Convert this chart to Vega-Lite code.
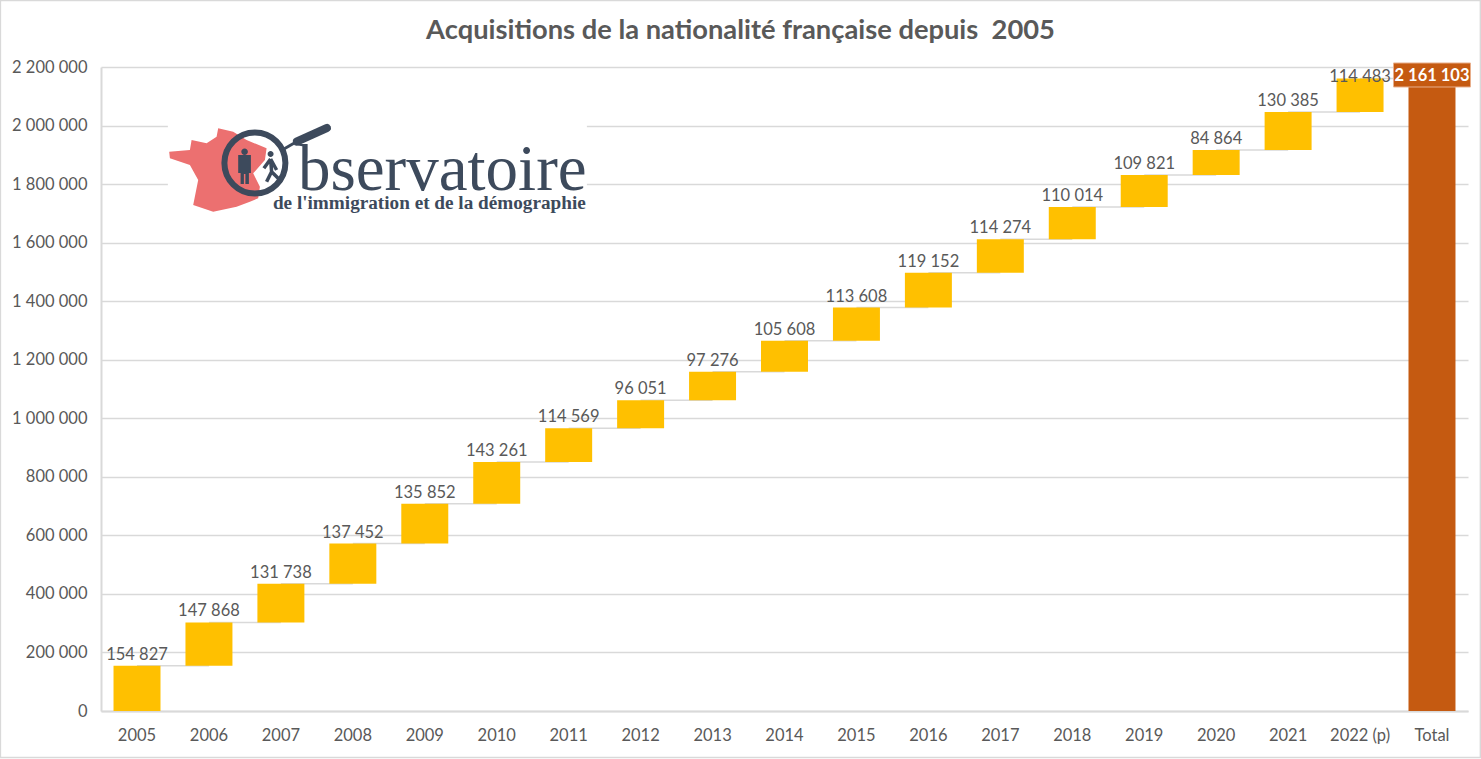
{
  "$schema": "https://vega.github.io/schema/vega-lite/v6.json",
  "width": 1367,
  "height": 644,
  "autosize": "none",
  "padding": {"left": 101, "top": 67, "right": 13, "bottom": 48},
  "background": "white",
  "title": {
    "text": "Acquisitions de la nationalité française depuis\u00a0 2005",
    "anchor": "middle",
    "dx": -44,
    "offset": -47,
    "font": "Lato",
    "fontSize": 27.3,
    "fontWeight": "bold",
    "color": "#595959"
  },
  "datasets": {
    "rows": [
      {"annee": "2005", "suivante": "2006", "debut": 0, "fin": 154827, "valeur": 154827},
      {"annee": "2006", "suivante": "2007", "debut": 154827, "fin": 302695, "valeur": 147868},
      {"annee": "2007", "suivante": "2008", "debut": 302695, "fin": 434433, "valeur": 131738},
      {"annee": "2008", "suivante": "2009", "debut": 434433, "fin": 571885, "valeur": 137452},
      {"annee": "2009", "suivante": "2010", "debut": 571885, "fin": 707737, "valeur": 135852},
      {"annee": "2010", "suivante": "2011", "debut": 707737, "fin": 850998, "valeur": 143261},
      {"annee": "2011", "suivante": "2012", "debut": 850998, "fin": 965567, "valeur": 114569},
      {"annee": "2012", "suivante": "2013", "debut": 965567, "fin": 1061618, "valeur": 96051},
      {"annee": "2013", "suivante": "2014", "debut": 1061618, "fin": 1158894, "valeur": 97276},
      {"annee": "2014", "suivante": "2015", "debut": 1158894, "fin": 1264502, "valeur": 105608},
      {"annee": "2015", "suivante": "2016", "debut": 1264502, "fin": 1378110, "valeur": 113608},
      {"annee": "2016", "suivante": "2017", "debut": 1378110, "fin": 1497262, "valeur": 119152},
      {"annee": "2017", "suivante": "2018", "debut": 1497262, "fin": 1611536, "valeur": 114274},
      {"annee": "2018", "suivante": "2019", "debut": 1611536, "fin": 1721550, "valeur": 110014},
      {"annee": "2019", "suivante": "2020", "debut": 1721550, "fin": 1831371, "valeur": 109821},
      {"annee": "2020", "suivante": "2021", "debut": 1831371, "fin": 1916235, "valeur": 84864},
      {"annee": "2021", "suivante": "2022 (p)", "debut": 1916235, "fin": 2046620, "valeur": 130385},
      {"annee": "2022 (p)", "suivante": "Total", "debut": 2046620, "fin": 2161103, "valeur": 114483},
      {"annee": "Total", "suivante": "Total", "debut": 0, "fin": 2161103, "valeur": 2161103}
    ]
  },
  "data": {"name": "rows"},
  "layer": [
    {
      "mark": {"type": "rule", "color": "#d9d9d9", "strokeWidth": 1.5},
      "encoding": {
        "x": {
          "field": "annee",
          "type": "nominal",
          "scale": {
            "type": "band",
            "domain": ["2005", "2006", "2007", "2008", "2009", "2010", "2011", "2012", "2013", "2014", "2015", "2016", "2017", "2018", "2019", "2020", "2021", "2022 (p)", "Total"],
            "paddingInner": 0.347,
            "paddingOuter": 0.174
          },
          "axis": {
            "title": null,
            "labelAngle": 0,
            "labelFont": "Lato",
            "labelFontSize": 16.5,
            "labelColor": "#595959",
            "labelPadding": 16,
            "ticks": false,
            "domainColor": "#d9d9d9",
            "domainWidth": 2
          }
        },
        "x2": {"field": "suivante"},
        "y": {
          "field": "fin",
          "type": "quantitative",
          "scale": {"domain": [0, 2200000], "nice": false},
          "axis": {
            "title": null,
            "values": [0, 200000, 400000, 600000, 800000, 1000000, 1200000, 1400000, 1600000, 1800000, 2000000, 2200000],
            "labelExpr": "replace(format(datum.value, ',d'), /,/g, ' ')",
            "labelFont": "Lato",
            "labelFontSize": 16.5,
            "labelColor": "#595959",
            "labelPadding": 14,
            "ticks": false,
            "domainColor": "#d9d9d9",
            "domainWidth": 2,
            "grid": true,
            "gridColor": "#d9d9d9",
            "gridWidth": 1.5
          }
        }
      }
    },
    {
      "transform": [{"filter": "datum.annee != 'Total'"}],
      "mark": {"type": "bar", "color": "#ffc000"},
      "encoding": {
        "x": {"field": "annee", "type": "nominal"},
        "y": {"field": "debut", "type": "quantitative"},
        "y2": {"field": "fin"}
      }
    },
    {
      "transform": [{"filter": "datum.annee == 'Total'"}],
      "mark": {"type": "bar", "color": "#c55a11"},
      "encoding": {
        "x": {"field": "annee", "type": "nominal"},
        "y": {"field": "debut", "type": "quantitative"},
        "y2": {"field": "fin"}
      }
    },
    {
      "transform": [
        {"filter": "datum.annee != 'Total' && datum.annee != '2022 (p)'"},
        {"calculate": "replace(format(datum.valeur, ',d'), /,/g, ' ')", "as": "etiquette"}
      ],
      "mark": {"type": "text", "font": "Lato", "fontSize": 16.5, "color": "#595959", "baseline": "alphabetic", "dy": -6},
      "encoding": {
        "x": {"field": "annee", "type": "nominal"},
        "y": {"field": "fin", "type": "quantitative"},
        "text": {"field": "etiquette"}
      }
    },
    {
      "transform": [
        {"filter": "datum.annee == '2022 (p)'"},
        {"calculate": "replace(format(datum.valeur, ',d'), /,/g, ' ')", "as": "etiquette"}
      ],
      "mark": {"type": "text", "font": "Lato", "fontSize": 16.5, "color": "#595959", "baseline": "alphabetic", "dy": 4},
      "encoding": {
        "x": {"field": "annee", "type": "nominal"},
        "y": {"field": "fin", "type": "quantitative"},
        "text": {"field": "etiquette"}
      }
    },
    {
      "transform": [{"filter": "datum.annee == 'Total'"}],
      "mark": {"type": "bar", "size": 77, "color": "#c55a11", "stroke": "#e8b08c", "strokeWidth": 1},
      "encoding": {
        "x": {"field": "annee", "type": "nominal"},
        "y": {"datum": 2131700},
        "y2": {"datum": 2213700}
      }
    },
    {
      "transform": [
        {"filter": "datum.annee == 'Total'"},
        {"calculate": "replace(format(datum.valeur, ',d'), /,/g, ' ')", "as": "etiquette"}
      ],
      "mark": {"type": "text", "font": "Lato", "fontSize": 16.5, "fontWeight": "bold", "color": "white", "baseline": "middle", "dy": -2},
      "encoding": {
        "x": {"field": "annee", "type": "nominal"},
        "y": {"field": "fin", "type": "quantitative"},
        "text": {"field": "etiquette"}
      }
    },
    {
      "data": {"values": [{"logo": "Observatoire"}]},
      "layer": [
        {
          "mark": {"type": "point", "filled": true, "opacity": 1, "fill": "white", "strokeWidth": 0, "size": 40000,
            "shape": "M-1.13 -0.48 L3.06 -0.48 L3.06 0.52 L-1.13 0.52 Z"},
          "encoding": {"x": {"datum": "2007", "type": "nominal"}, "y": {"datum": 1872000, "type": "quantitative"}}
        },
        {
          "mark": {"type": "point", "filled": true, "opacity": 1, "fill": "#ec7070", "strokeWidth": 0, "size": 40000,
            "shape": "M-1.117 -0.113 L-0.91 -0.13 L-0.893 -0.23 L-0.743 -0.197 L-0.643 -0.263 L-0.627 -0.347 L-0.477 -0.313 L-0.343 -0.23 L-0.143 -0.147 L-0.16 -0.03 L-0.277 0.103 L-0.21 0.237 L-0.227 0.353 L-0.31 0.387 L-0.443 0.437 L-0.677 0.487 L-0.877 0.42 L-0.827 0.17 L-0.91 0.02 L-1.11 -0.047 Z"},
          "encoding": {"x": {"datum": "2007", "type": "nominal"}, "y": {"datum": 1872000, "type": "quantitative"}}
        },
        {
          "mark": {"type": "point", "filled": false, "opacity": 1, "stroke": "#3d4a5c", "strokeWidth": 6, "size": 40000,
            "shape": "M-0.565 0 A0.305 0.305 0 1 1 0.045 0 A0.305 0.305 0 1 1 -0.565 0 Z"},
          "encoding": {"x": {"datum": "2007", "type": "nominal"}, "y": {"datum": 1872000, "type": "quantitative"}}
        },
        {
          "mark": {"type": "point", "filled": false, "opacity": 1, "stroke": "#3d4a5c", "strokeWidth": 3, "size": 40000,
            "shape": "M0.03 -0.14 L0.16 -0.215"},
          "encoding": {"x": {"datum": "2007", "type": "nominal"}, "y": {"datum": 1872000, "type": "quantitative"}}
        },
        {
          "mark": {"type": "point", "filled": false, "opacity": 1, "stroke": "#3d4a5c", "strokeWidth": 8, "strokeCap": "round", "size": 40000,
            "shape": "M0.16 -0.215 L0.46 -0.35"},
          "encoding": {"x": {"datum": "2007", "type": "nominal"}, "y": {"datum": 1872000, "type": "quantitative"}}
        },
        {
          "mark": {"type": "point", "filled": true, "opacity": 1, "fill": "#3d4a5c", "strokeWidth": 0, "size": 40000,
            "shape": "M-0.396 -0.113 A0.033 0.033 0 1 1 -0.33 -0.113 A0.033 0.033 0 1 1 -0.396 -0.113 Z M-0.427 -0.08 L-0.3 -0.08 L-0.3 0.1 L-0.32 0.1 L-0.32 0.21 L-0.355 0.21 L-0.355 0.11 L-0.37 0.11 L-0.37 0.21 L-0.403 0.21 L-0.403 0.1 L-0.427 0.1 Z M-0.133 -0.09 A0.03 0.03 0 1 1 -0.073 -0.09 A0.03 0.03 0 1 1 -0.133 -0.09 Z"},
          "encoding": {"x": {"datum": "2007", "type": "nominal"}, "y": {"datum": 1872000, "type": "quantitative"}}
        },
        {
          "mark": {"type": "point", "filled": false, "opacity": 1, "stroke": "#3d4a5c", "strokeWidth": 3.5, "size": 40000,
            "shape": "M-0.103 -0.04 L-0.093 0.087 L-0.143 0.187 M-0.093 0.087 L-0.01 0.17 M-0.103 -0.04 L-0.17 0.053 M-0.103 -0.04 L-0.043 0.07"},
          "encoding": {"x": {"datum": "2007", "type": "nominal"}, "y": {"datum": 1872000, "type": "quantitative"}}
        },
        {
          "mark": {"type": "point", "filled": false, "opacity": 1, "stroke": "#d9d9d9", "strokeWidth": 1.5, "size": 40000,
            "shape": "M-2.805 -1.625 L11.995 -1.625 L11.995 5.945 L-2.805 5.945 Z"},
          "encoding": {"x": {"datum": "2007", "type": "nominal"}, "y": {"datum": 1872000, "type": "quantitative"}}
        },
        {
          "mark": {"type": "text", "text": "bservatoire", "font": "Liberation Serif", "fontSize": 65, "color": "#3d4a5c", "align": "left", "baseline": "alphabetic", "dx": 17},
          "encoding": {"x": {"datum": "2007", "type": "nominal"}, "y": {"datum": 1779800, "type": "quantitative"}}
        },
        {
          "mark": {"type": "text", "text": "de l'immigration et de la démographie", "font": "Liberation Serif", "fontSize": 19.2, "fontWeight": "bold", "color": "#3d4a5c", "align": "left", "baseline": "alphabetic", "dx": -8},
          "encoding": {"x": {"datum": "2007", "type": "nominal"}, "y": {"datum": 1716000, "type": "quantitative"}}
        }
      ]
    }
  ],
  "config": {"view": {"stroke": null}}
}
